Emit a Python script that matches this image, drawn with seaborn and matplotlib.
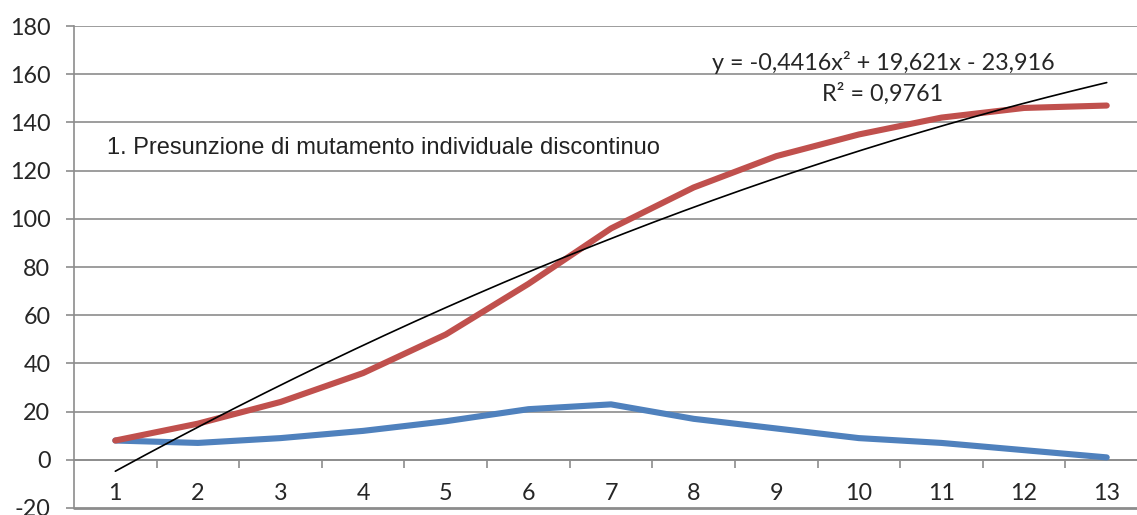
import numpy as np
import pandas as pd
import matplotlib.pyplot as plt
from matplotlib.ticker import FixedLocator
import seaborn as sns

sns.set_style("white")
plt.rcParams['font.family'] = ['Lato', 'DejaVu Sans']
plt.rcParams['axes.unicode_minus'] = False

# Data
categories = list(range(1, 14))
red_values = [8, 15, 24, 36, 52, 73, 96, 113, 126, 135, 142, 146, 147]
blue_values = [8, 7, 9, 12, 16, 21, 23, 17, 13, 9, 7, 4, 1]
# trendline coefficients as printed on the chart (a*x^2 + b*x + c)
trend_coef = [-0.4416, 19.621, -23.916]
trend_label = "y = -0,4416x\u00b2 + 19,621x - 23,916"
r2_label = "R\u00b2 = 0,9761"
note_text = "1. Presunzione di mutamento individuale discontinuo"
y_ticks = [-20, 0, 20, 40, 60, 80, 100, 120, 140, 160, 180]

df = pd.DataFrame({
    "x": categories * 2,
    "value": blue_values + red_values,
    "series": ["blue"] * len(categories) + ["red"] * len(categories),
})

grid_col = "#8c8c8c"

fig = plt.figure(figsize=(11.37, 5.15), dpi=100)
ax = fig.add_axes([0.0651, 0.0136, 0.9446, 0.9359])

# gridlines
for y in y_ticks[1:]:
    ax.axhline(y, color=grid_col, lw=1.2, zorder=0)

sns.lineplot(data=df, x="x", y="value", hue="series",
             palette={"blue": "#4F81BD", "red": "#C0504D"},
             linewidth=4.4, legend=False, ax=ax, zorder=3,
             solid_capstyle="round")

xs = np.linspace(categories[0], categories[-1], 200)
ax.plot(xs, np.polyval(trend_coef, xs), color="black", lw=1.2, zorder=4)

ax.set_xlim(0.5, len(categories) + 0.5)
ax.set_ylim(y_ticks[0], y_ticks[-1])
ax.set_xlabel("")
ax.set_ylabel("")

# x axis crosses at 0 with ticks between categories
ax.spines['bottom'].set_position(('data', 0))
ax.spines['bottom'].set_color(grid_col)
ax.spines['bottom'].set_linewidth(1.2)
ax.spines['left'].set_color(grid_col)
ax.spines['left'].set_linewidth(1.2)
ax.spines['top'].set_visible(False)
ax.spines['right'].set_visible(False)
ax.axhline(y_ticks[0], color=grid_col, lw=2, zorder=1, clip_on=False)

ax.set_xticks(categories)
ax.set_xticklabels([str(c) for c in categories])
ax.xaxis.set_minor_locator(FixedLocator([c + 0.5 for c in categories]))
ax.tick_params(axis='x', which='major', length=0, pad=17, labelsize=16.8)
ax.tick_params(axis='x', which='minor', length=6, width=1.2, color=grid_col,
               direction='out', bottom=True)
ax.set_yticks(y_ticks)
ax.tick_params(axis='y', length=6, width=1.2, color=grid_col, pad=11,
               labelsize=16.8, left=True)

ax.text(10.29, 165, trend_label, ha='center', va='center', fontsize=16.8)
ax.text(10.29, 152, r2_label, ha='center', va='center', fontsize=16.8)
ax.text(0.9, 129.5, note_text, ha='left', va='center', fontsize=17,
        color='#222222',
        family=['Liberation Sans Narrow', 'Liberation Sans', 'DejaVu Sans'])

fig.savefig("out.png", dpi=100)
